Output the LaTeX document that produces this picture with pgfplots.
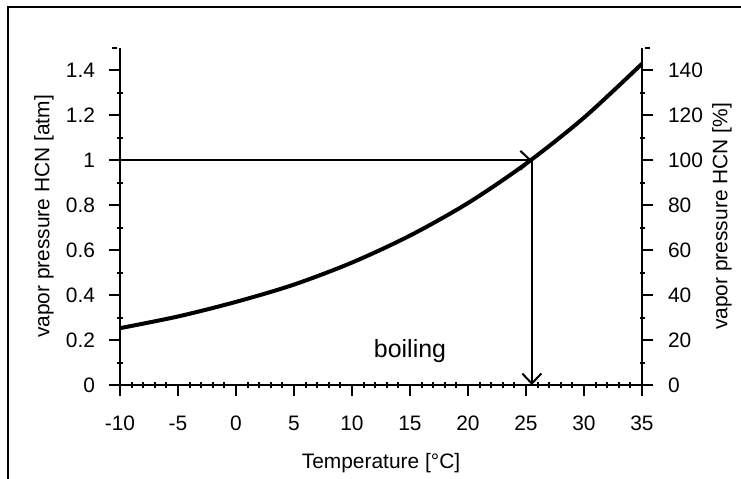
\documentclass[border=0pt]{standalone}
\usepackage{pgfplots}
\pgfplotsset{compat=1.18}
\usepackage{fontspec}
\setmainfont{Liberation Sans}
\usetikzlibrary{arrows.meta}

\pgfplotstableread{
T P
-10 0.253
-5 0.305
0 0.370
5 0.447
10 0.545
15 0.665
20 0.810
25 0.985
30 1.190
35 1.430
}\vapor

\pgfplotsset{
  common/.style={
    scale only axis, width=522bp, height=337bp,
    at={(120bp,94bp)}, anchor=south west,
    xmin=-10, xmax=35,
    tick align=inside,
    major tick length=11bp, minor tick length=5bp,
    every tick/.append style={line width=2bp, black},
    /pgf/number format/assume math mode=true,
    every tick label/.append style={font=\fontsize{21}{25}\selectfont},
  }
}

\begin{document}
\begin{tikzpicture}
\useasboundingbox (0,0) rectangle (741bp,479bp);
\draw[line width=2.2bp] (8bp,0) -- (8bp,472bp) -- (741bp,472bp);
\begin{axis}[common,
  ymin=0, ymax=1.5,
  axis x line=bottom, axis y line=left,
  x axis line style={-, line width=2.8bp},
  y axis line style={-, line width=2.8bp},
  xtick={-10,-5,0,5,10,15,20,25,30,35},
  minor x tick num=4,
  ytick={0,0.2,0.4,0.6,0.8,1,1.2,1.4},
  minor y tick num=1,
  extra y ticks={1.5}, extra y tick labels={},
  extra y tick style={major tick length=5bp, major y tick style={xshift=0bp}},
  major x tick style={yshift=-5.5bp},
  major y tick style={xshift=-5.5bp},
  xticklabel style={anchor=base, yshift=-40bp},
  yticklabel style={xshift=-16bp},
  xlabel={Temperature [°C]},
  ylabel={vapor pressure HCN [atm]},
  every axis x label/.style={at={(axis description cs:0.5,0)}, yshift=-78bp, anchor=center, font=\fontsize{21}{25}\selectfont},
  every axis y label/.style={at={(axis description cs:0,0.5)}, xshift=-76bp, rotate=90, anchor=center, font=\fontsize{21}{25}\selectfont},
]
\addplot[black, line width=2bp, -{Straight Barb[length=10bp,width=19bp]}] coordinates {(-10,1) (25.5,1)};
\addplot[black, line width=2bp, -{Straight Barb[length=10bp,width=19bp]}] coordinates {(25.5,1) (25.5,0)};
\addplot[black, line width=4bp, smooth] table[x=T,y=P] {\vapor};
\node[font=\fontsize{25}{30}\selectfont] at (axis cs:15,0.15) {boiling};
\end{axis}
\begin{axis}[common,
  ymin=0, ymax=150,
  axis x line=none, axis y line=right,
  y axis line style={-, line width=2.8bp},
  ytick={0,20,40,60,80,100,120,140},
  minor y tick num=1,
  extra y ticks={150}, extra y tick labels={},
  extra y tick style={major tick length=5bp, major y tick style={xshift=0bp}},
  major y tick style={xshift=5.5bp},
  yticklabel style={xshift=17bp},
  ylabel={vapor pressure HCN [\%]},
  every axis y label/.style={at={(axis description cs:1,0.5)}, xshift=80bp, rotate=90, anchor=center, font=\fontsize{21}{25}\selectfont},
]
\end{axis}
\end{tikzpicture}
\end{document}
